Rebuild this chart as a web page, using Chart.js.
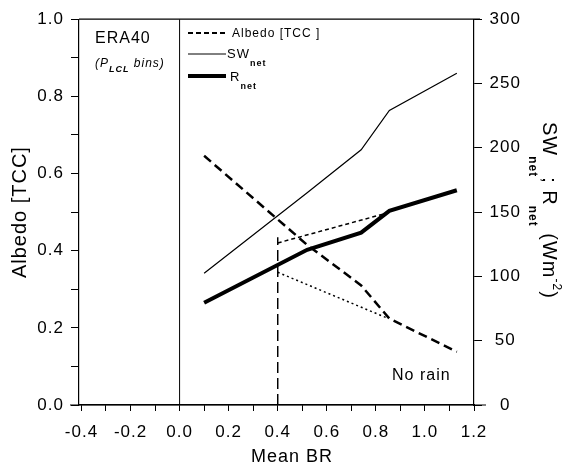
<!DOCTYPE html>
<html>
<head>
<meta charset="utf-8">
<script src="https://cdn.jsdelivr.net/npm/chart.js@4"></script>
<style>
  body { margin: 0; background: #fff; }
  #wrap { width: 569px; height: 470px; }
</style>
</head>
<body>
<div id="wrap"><canvas id="myChart"></canvas></div>
<script>
// values
let brBins = [0.1, 0.52, 0.74, 0.855, 1.13];
let albedo = [0.646, 0.415, 0.31, 0.224, 0.138];
let swNet = [102.5, 165, 198.5, 229, 258];
let rNet = [79.5, 120.7, 134, 151, 167];

// dotted tangent lines and the BR = 0.4 marker
let tangentX = [0.4, 0.84];
let tangentR = [126, 149];
let tangentAlbedo = [0.344, 0.227];
let markX = [0.4, 0.4];
let markY = [0, 0.435];
let zeroX = [0, 0];
let zeroY = [0, 1];

let xTicks = [-0.4, -0.3, -0.2, -0.1, 0, 0.1, 0.2, 0.3, 0.4, 0.5, 0.6, 0.7, 0.8, 0.9, 1.0, 1.1, 1.2];
let xLabels = ["-0.4", "", "-0.2", "", "0.0", "", "0.2", "", "0.4", "", "0.6", "", "0.8", "", "1.0", "", "1.2"];
let yTicks = [0, 0.1, 0.2, 0.3, 0.4, 0.5, 0.6, 0.7, 0.8, 0.9, 1.0];
let yLabels = ["0.0", "", "0.2", "", "0.4", "", "0.6", "", "0.8", "", "1.0"];
let y2Ticks = [0, 50, 100, 150, 200, 250, 300];

function pts(xs, ys) {
  return xs.map((x, i) => ({ x: x, y: ys[i] }));
}

const FONT = "'Liberation Sans', Arial, sans-serif";

// text with sub/superscripts, drawn left to right from (x, y)
function richText(ctx, parts, x, y) {
  for (const p of parts) {
    ctx.font = p.font;
    ctx.fillText(p.t, x, y + (p.dy || 0));
    x += ctx.measureText(p.t).width;
  }
}

const extras = {
  id: "extras",
  beforeDraw(c) {
    const ctx = c.ctx;
    ctx.save();
    ctx.fillStyle = "#fff";
    ctx.fillRect(0, 0, c.width, c.height);
    ctx.restore();
    ctx.letterSpacing = "1px";
  },
  afterDraw(c) {
    const ctx = c.ctx;
    const a = c.chartArea;
    ctx.save();
    ctx.strokeStyle = "#000";
    ctx.lineWidth = 1.2;
    ctx.beginPath();
    ctx.moveTo(a.left, a.top);
    ctx.lineTo(a.right + 6, a.top);
    ctx.moveTo(70, a.bottom);
    ctx.lineTo(486, a.bottom);
    ctx.stroke();

    ctx.fillStyle = "#000";
    ctx.textBaseline = "alphabetic";
    ctx.textAlign = "left";

    // panel label
    ctx.font = "16px " + FONT;
    ctx.fillText("ERA40", 95, 43);
    richText(ctx, [
      { t: "(P", font: "italic 12px " + FONT },
      { t: "LCL", font: "italic bold 9px " + FONT, dy: 5 },
      { t: " bins)", font: "italic 12px " + FONT }
    ], 95, 67);

    // legend
    ctx.lineCap = "butt";
    ctx.beginPath();
    ctx.setLineDash([5, 3]);
    ctx.lineWidth = 2;
    ctx.moveTo(188, 33); ctx.lineTo(226, 33);
    ctx.stroke();
    ctx.setLineDash([]);
    ctx.lineWidth = 1;
    ctx.beginPath();
    ctx.moveTo(188, 54); ctx.lineTo(226, 54);
    ctx.stroke();
    ctx.lineWidth = 4;
    ctx.beginPath();
    ctx.moveTo(188, 76); ctx.lineTo(226, 76);
    ctx.stroke();

    ctx.font = "12px " + FONT;
    ctx.fillText("Albedo [TCC ]", 232, 37);
    richText(ctx, [
      { t: "SW", font: "13px " + FONT },
      { t: "net", font: "bold 9px " + FONT, dy: 8 }
    ], 227, 58);
    richText(ctx, [
      { t: "R", font: "13px " + FONT },
      { t: "net", font: "bold 9px " + FONT, dy: 8 }
    ], 230, 81);

    ctx.font = "16px " + FONT;
    ctx.fillText("No rain", 392, 380);

    // x axis title
    ctx.font = "18px " + FONT;
    ctx.textAlign = "center";
    ctx.fillText("Mean BR", 292, 462);
    ctx.textAlign = "left";

    // right axis title, rotated clockwise
    ctx.translate(543, 122);
    ctx.rotate(Math.PI / 2);
    richText(ctx, [
      { t: "SW", font: "20px " + FONT },
      { t: "net", font: "bold 12px " + FONT, dy: 14 },
      { t: "; R", font: "20px " + FONT },
      { t: "net", font: "bold 12px " + FONT, dy: 14 },
      { t: " (Wm", font: "20px " + FONT },
      { t: "-2", font: "12px " + FONT, dy: -10 },
      { t: ")", font: "20px " + FONT }
    ], 0, 0);
    ctx.restore();
  }
};

let myChart = document.getElementById("myChart").getContext("2d");

var chart = new Chart(myChart, {
  type: "line",
  data: {
    datasets: [
      {
        label: "Albedo [TCC]",
        data: pts(brBins, albedo),
        yAxisID: "y",
        borderColor: "#000",
        borderWidth: 2.5,
        borderDash: [9, 5],
        pointRadius: 0,
      },
      {
        label: "SWnet",
        data: pts(brBins, swNet),
        yAxisID: "y2",
        borderColor: "#000",
        borderWidth: 1.2,
        pointRadius: 0,
      },
      {
        label: "Rnet",
        data: pts(brBins, rNet),
        yAxisID: "y2",
        borderColor: "#000",
        borderWidth: 4,
        pointRadius: 0,
      },
      {
        label: "tangent R",
        data: pts(tangentX, tangentR),
        yAxisID: "y2",
        borderColor: "#000",
        borderWidth: 1.5,
        borderDash: [4, 3],
        pointRadius: 0,
      },
      {
        label: "tangent albedo",
        data: pts(tangentX, tangentAlbedo),
        yAxisID: "y",
        borderColor: "#000",
        borderWidth: 1.5,
        borderDash: [2, 3],
        pointRadius: 0,
      },
      {
        label: "BR 0.4",
        data: pts(markX, markY),
        yAxisID: "y",
        borderColor: "#000",
        borderWidth: 1.5,
        borderDash: [11, 5],
        pointRadius: 0,
      },
      {
        label: "zero",
        data: pts(zeroX, zeroY),
        yAxisID: "y",
        borderColor: "#000",
        borderWidth: 1,
        pointRadius: 0,
      },
    ],
  },
  options: {
    responsive: true,
    maintainAspectRatio: false,
    animation: false,
    layout: { padding: { top: 18, left: 0, right: 0, bottom: 0 } },
    plugins: {
      legend: { display: false },
      tooltip: { enabled: false },
    },
    scales: {
      x: {
        type: "linear",
        min: -0.41,
        max: 1.2,
        afterBuildTicks: (s) => { s.ticks = xTicks.map((v) => ({ value: v })); },
        afterFit: (s) => { s.height = 65; },
        ticks: {
          color: "#000",
          font: { family: FONT, size: 17 },
          padding: 11,
          maxRotation: 0,
          autoSkip: false,
          callback: (v, i) => xLabels[i],
        },
        grid: { drawOnChartArea: false, drawTicks: true, tickLength: 6, color: "#000" },
        border: { display: true, color: "#000", width: 1.2 },
      },
      y: {
        type: "linear",
        position: "left",
        min: 0,
        max: 1,
        afterBuildTicks: (s) => { s.ticks = yTicks.map((v) => ({ value: v })); },
        afterFit: (s) => { s.width = 79; },
        ticks: {
          color: "#000",
          font: { family: FONT, size: 17 },
          padding: 7,
          autoSkip: false,
          callback: (v, i) => yLabels[i],
        },
        grid: { drawOnChartArea: false, drawTicks: true, tickLength: 8, color: "#000" },
        border: { display: true, color: "#000", width: 1.2 },
        title: {
          display: true,
          text: "Albedo [TCC]",
          color: "#000",
          font: { family: FONT, size: 20 },
          padding: { top: 8, bottom: 0 },
        },
      },
      y2: {
        type: "linear",
        position: "right",
        min: 0,
        max: 300,
        afterBuildTicks: (s) => { s.ticks = y2Ticks.map((v) => ({ value: v })); },
        afterFit: (s) => { s.width = 95; },
        ticks: {
          color: "#000",
          font: { family: FONT, size: 17 },
          padding: 9,
          crossAlign: "center",
          autoSkip: false,
        },
        grid: { drawOnChartArea: false, drawTicks: true, tickLength: 8, color: "#000" },
        border: { display: true, color: "#000", width: 1.2 },
      },
    },
  },
  plugins: [extras],
});
</script>
</body>
</html>
